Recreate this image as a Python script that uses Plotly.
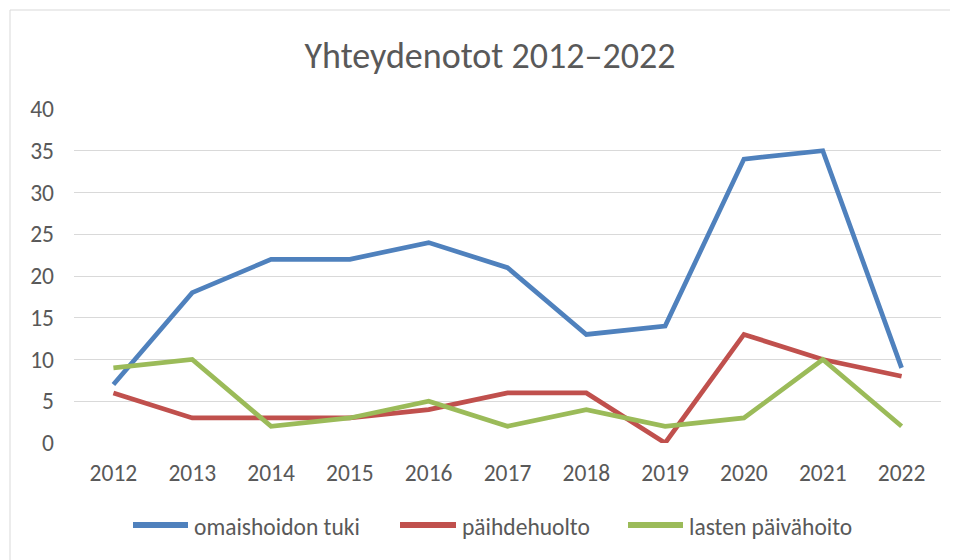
import plotly.graph_objects as go

years = ["2012", "2013", "2014", "2015", "2016", "2017", "2018", "2019", "2020", "2021", "2022"]
omaishoidon_tuki = [7, 18, 22, 22, 24, 21, 13, 14, 34, 35, 9]
paihdehuolto = [6, 3, 3, 3, 4, 6, 6, 0, 13, 10, 8]
lasten_paivahoito = [9, 10, 2, 3, 5, 2, 4, 2, 3, 10, 2]
series_names = ["omaishoidon tuki", "päihdehuolto", "lasten päivähoito"]
colors = ["#4F81BD", "#C0504D", "#9BBB59"]

FONT = "Carlito, Calibri, Lato, sans-serif"
TXT = "#595959"

fig = go.Figure()
for name, vals, col in zip(series_names, [omaishoidon_tuki, paihdehuolto, lasten_paivahoito], colors):
    fig.add_trace(go.Scatter(x=years, y=vals, name=name, mode="lines",
                             line=dict(color=col, width=4.7), showlegend=False))

OFF = 8  # page body margin
W, H = 950, 552
L = 74 - OFF
T = 109 - OFF
R = W - (941 - OFF)
B = H - (443 - OFF)
pw, ph = W - L - R, H - T - B

def px_x(p):  # screen px -> paper
    return (p - OFF - L) / pw

def px_y(p):
    return (H - B - (p - OFF)) / ph

# manual legend (layout positions in screen pixels)
legend_line_x = [(133, 188), (400, 456), (628, 683)]
legend_text_x = [192, 460, 687]
legend_y = 525

border = dict(xref="paper", yref="paper", line=dict(color="#D9D9D9", width=1), layer="below")
shapes = [
    dict(type="line", x0=px_x(10), x1=px_x(960), y0=px_y(10), y1=px_y(10), **border),
    dict(type="line", x0=px_x(10), x1=px_x(10), y0=px_y(10), y1=px_y(570), **border),
]
annotations = []
for (x0, x1), tx, name, col in zip(legend_line_x, legend_text_x, series_names, colors):
    shapes.append(dict(type="line", xref="paper", yref="paper",
                       x0=px_x(x0), x1=px_x(x1), y0=px_y(legend_y), y1=px_y(legend_y),
                       line=dict(color=col, width=6)))
    annotations.append(dict(text=name, xref="paper", yref="paper", x=px_x(tx), y=px_y(legend_y + 2),
                            xanchor="left", yanchor="middle", showarrow=False,
                            font=dict(size=23.5, color=TXT, family=FONT)))

fig.update_layout(
    width=W, height=H,
    margin=dict(l=L, r=R, t=T, b=B, autoexpand=False),
    paper_bgcolor="white", plot_bgcolor="white",
    font=dict(family=FONT, color=TXT, size=23.5),
    showlegend=False,
    title=dict(text="Yhteydenotot 2012–2022", x=(490 - OFF) / W, xref="container", xanchor="center",
               y=1 - (55 - OFF) / H, yref="container", yanchor="middle",
               font=dict(size=36, color=TXT, family=FONT)),
    xaxis=dict(type="category", range=[-0.5, 10.5], showgrid=False, zeroline=False, showline=False,
               ticks="", ticklabelstandoff=13, tickangle=0, tickfont=dict(size=23.5, color=TXT)),
    yaxis=dict(range=[0, 40], dtick=5, showgrid=True, gridcolor="#D9D9D9", gridwidth=1.3,
               zeroline=False, showline=False, ticks="", ticklabelstandoff=19,
               tickfont=dict(size=23.5, color=TXT)),
    shapes=shapes,
    annotations=annotations,
)

fig.write_html("out.html")
